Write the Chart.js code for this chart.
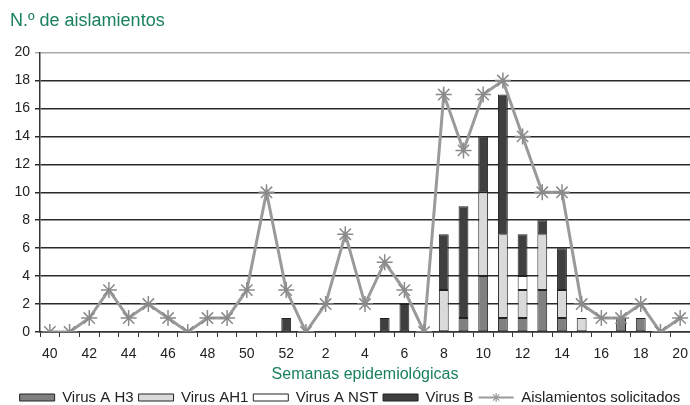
<!DOCTYPE html>
<html>
<head>
    <title>Aislamientos por semana</title>
    <script src="https://cdn.jsdelivr.net/npm/chart.js"></script>
    <style>
        body {
            margin: 0;
            padding: 0;
            background-color: #ffffff;
        }
        .container {
            width: 690px;
            height: 405px;
        }
    </style>
</head>
<body>
    <div class="container">
        <canvas id="virusChart" width="690" height="405"></canvas>
    </div>

    <script>
        // semanas 40-52 y 1-20
        const weeks = ['40','41','42','43','44','45','46','47','48','49','50','51','52',
                       '1','2','3','4','5','6','7','8','9','10','11','12','13','14','15','16','17','18','19','20'];

        const virusAH3  = [0,0,0,0,0,0,0,0,0,0,0,0,0, 0,0,0,0,0,0,0,0,1,4,1,1,3,1,0,0,1,1,0,0];
        const virusAH1  = [0,0,0,0,0,0,0,0,0,0,0,0,0, 0,0,0,0,0,0,0,3,0,6,6,2,4,2,1,0,0,0,0,0];
        const virusANST = [0,0,0,0,0,0,0,0,0,0,0,0,0, 0,0,0,0,0,0,0,0,0,0,0,1,0,0,0,0,0,0,0,0];
        const virusB    = [0,0,0,0,0,0,0,0,0,0,0,0,1, 0,0,0,0,1,2,0,4,8,4,10,3,1,3,0,0,0,0,0,0];
        const solicitados = [0,0,1,3,1,2,1,0,1,1,3,10,3, 0,2,7,2,5,3,0,17,13,17,18,14,10,10,2,1,1,2,0,1];

        const green = '#1a8060';
        const barBorder = '#222222';
        const lineGray = '#9a9a9a';

        function barSet(label, data, color) {
            return {
                type: 'bar',
                label: label,
                data: data,
                backgroundColor: color,
                borderColor: barBorder,
                borderWidth: 1,
                borderSkipped: false,
                stack: 'virus',
                barPercentage: 0.5,
                categoryPercentage: 1.0,
                order: 1
            };
        }

        const ctx = document.getElementById('virusChart').getContext('2d');
        new Chart(ctx, {
            data: {
                labels: weeks,
                datasets: [
                    barSet('Virus A H3', virusAH3, '#808080'),
                    barSet('Virus AH1', virusAH1, '#dadada'),
                    barSet('Virus A NST', virusANST, '#ffffff'),
                    barSet('Virus B', virusB, '#3f3f3f'),
                    {
                        type: 'line',
                        label: 'Aislamientos solicitados',
                        data: solicitados,
                        borderColor: lineGray,
                        backgroundColor: lineGray,
                        borderWidth: 3,
                        pointStyle: 'star',
                        pointRadius: 8,
                        pointBorderWidth: 1.5,
                        pointBorderColor: '#8a8a8a',
                        tension: 0,
                        stack: 'line',
                        order: 0
                    }
                ]
            },
            options: {
                responsive: false,
                animation: false,
                layout: { autoPadding: false, padding: { left: 10, right: 0, top: 0, bottom: -10 } },
                plugins: {
                    tooltip: { enabled: false },
                    title: {
                        display: true,
                        text: 'N.º de aislamientos',
                        align: 'start',
                        color: green,
                        font: { family: 'Arial', size: 18, weight: 'normal' },
                        padding: { top: 10, bottom: 21 }
                    },
                    legend: {
                        position: 'bottom',
                        labels: {
                            boxWidth: 35,
                            boxHeight: 7,
                            padding: 5,
                            color: '#222',
                            font: { family: 'Arial', size: 15 },
                            sort: (a, b) => a.datasetIndex - b.datasetIndex,
                            generateLabels: function (chart) {
                                const items = Chart.defaults.plugins.legend.labels.generateLabels(chart);
                                items.forEach(it => {
                                    if (it.datasetIndex === 4) {
                                        it.fillStyle = 'rgba(0,0,0,0)';
                                        it.strokeStyle = 'rgba(0,0,0,0)';
                                        it.lineWidth = 0;
                                    } else {
                                        it.lineWidth = 1;
                                        it.strokeStyle = barBorder;
                                    }
                                });
                                return items;
                            }
                        }
                    }
                },
                scales: {
                    x: {
                        stacked: true,
                        offset: true,
                        afterFit: s => { s.paddingRight = 0; },
                        grid: {
                            display: true,
                            drawOnChartArea: false,
                            offset: true,
                            tickLength: 5,
                            color: '#333'
                        },
                        border: { color: '#333', width: 1.5 },
                        ticks: {
                            autoSkip: false,
                            maxRotation: 0,
                            color: '#222',
                            font: { family: 'Arial', size: 14 },
                            padding: 9,
                            callback: function (value, index) {
                                return index % 2 === 0 ? weeks[index] : '';
                            }
                        },
                        title: {
                            display: true,
                            text: 'Semanas epidemiológicas',
                            color: green,
                            font: { family: 'Arial', size: 16 },
                            padding: { top: -7, bottom: 1 }
                        }
                    },
                    y: {
                        stacked: true,
                        min: 0,
                        max: 20,
                        afterFit: s => { s.width = 30; },
                        ticks: {
                            stepSize: 2,
                            color: '#222',
                            font: { family: 'Arial', size: 14 },
                            padding: 5
                        },
                        grid: {
                            tickLength: 5,
                            lineWidth: 1.5,
                            color: c => c.tick && c.tick.value === 20 ? '#aaaaaa' : '#2a2a2a'
                        },
                        border: { color: '#333', width: 1.5 }
                    }
                }
            },
            plugins: [{
                // linea con estrella en la leyenda
                id: 'legendStar',
                afterDraw(chart) {
                    const lg = chart.legend;
                    if (!lg || !lg.legendHitBoxes[4]) return;
                    const hb = lg.legendHitBoxes[4];
                    const cy = hb.top + hb.height / 2;
                    const c = chart.ctx;
                    c.save();
                    c.strokeStyle = lineGray;
                    c.lineWidth = 2;
                    c.beginPath();
                    c.moveTo(hb.left, cy);
                    c.lineTo(hb.left + 35, cy);
                    c.stroke();
                    c.lineWidth = 1.2;
                    Chart.helpers.drawPoint(c, { pointStyle: 'star', radius: 4.5, borderWidth: 1.2 }, hb.left + 17.5, cy);
                    c.restore();
                }
            }]
        });
    </script>
</body>
</html>
